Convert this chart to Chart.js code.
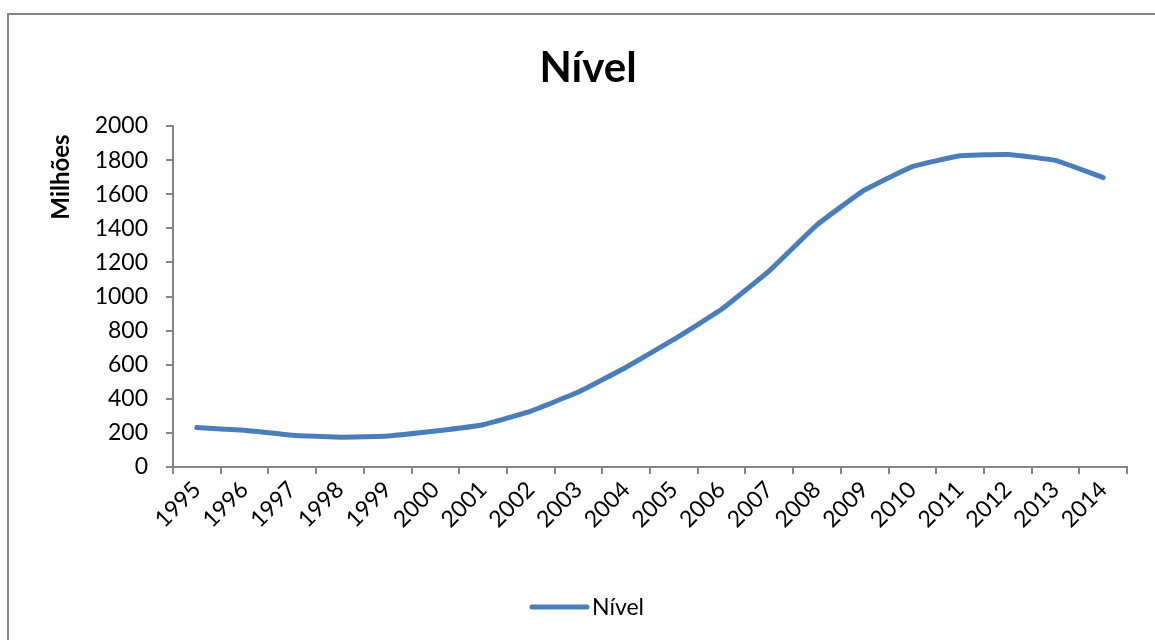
<!DOCTYPE html>
<html>
<head>
<meta charset="utf-8">
<title>Nível</title>
<script src="https://cdn.jsdelivr.net/npm/chart.js@4/dist/chart.umd.min.js"></script>
<style>
  html, body { margin: 0; padding: 0; background: #fff; overflow: hidden; }
  #wrap { width: 1155px; height: 640px; position: relative; }
</style>
</head>
<body>
<div id="wrap"><canvas id="nivelChart" width="1155" height="640"></canvas></div>
<script>
const anos = ['1995', '1996', '1997', '1998', '1999', '2000', '2001', '2002', '2003', '2004',
              '2005', '2006', '2007', '2008', '2009', '2010', '2011', '2012', '2013', '2014'];
const nivel = [231, 215, 186, 175, 182, 211, 248, 328, 440, 585,
               748, 925, 1150, 1420, 1625, 1762, 1825, 1833, 1798, 1697];
const yTicks = [0, 200, 400, 600, 800, 1000, 1200, 1400, 1600, 1800, 2000];

const AXIS_GREY = '#868686';
const LINE_BLUE = '#4a7ebb';
const FONT = 'Lato, "Open Sans", sans-serif';

// outer frame of the chart object, open on the right and bottom;
// the object is wider than the canvas, so title and legend centre at 588
const FRAME_CENTER = 588;

const framePlugin = {
    id: 'frame',
    beforeDraw(chart) {
        const ctx = chart.ctx;
        ctx.save();
        ctx.strokeStyle = AXIS_GREY;
        ctx.lineWidth = 2;
        ctx.strokeRect(8, 14, chart.width + 20, chart.height + 20);
        ctx.restore();
    }
};

// title, axis title and the single-entry legend
const textPlugin = {
    id: 'texts',
    afterDraw(chart) {
        const ctx = chart.ctx;
        const ds = chart.data.datasets[0];
        ctx.save();
        ctx.fillStyle = '#000';

        ctx.font = 'bold 42px ' + FONT;
        ctx.textAlign = 'center';
        ctx.textBaseline = 'alphabetic';
        ctx.fillText(ds.label, FRAME_CENTER, 82);

        ctx.save();
        ctx.translate(61, 177);
        ctx.rotate(-Math.PI / 2);
        ctx.font = 'bold 24px ' + FONT;
        ctx.textBaseline = 'middle';
        ctx.fillText('Milhões', 0, 0);
        ctx.restore();

        // legend: line sample followed by the series name
        ctx.font = '23px ' + FONT;
        const textW = ctx.measureText(ds.label).width;
        const sampleW = 55, gap = 5;
        const x0 = FRAME_CENTER - (sampleW + gap + textW) / 2;
        const y = 607;
        ctx.strokeStyle = ds.borderColor;
        ctx.lineWidth = ds.borderWidth;
        ctx.lineCap = 'round';
        ctx.beginPath();
        ctx.moveTo(x0, y);
        ctx.lineTo(x0 + sampleW, y);
        ctx.stroke();
        ctx.textAlign = 'left';
        ctx.textBaseline = 'middle';
        ctx.fillText(ds.label, x0 + sampleW + gap, y + 1);
        ctx.restore();
    }
};

new Chart(document.getElementById('nivelChart'), {
    type: 'line',
    data: {
        labels: anos,
        datasets: [{
            label: 'Nível',
            data: nivel,
            borderColor: LINE_BLUE,
            backgroundColor: LINE_BLUE,
            borderWidth: 5,
            borderCapStyle: 'round',
            borderJoinStyle: 'round',
            pointRadius: 0,
            pointHoverRadius: 0,
            tension: 0.1
        }]
    },
    options: {
        responsive: false,
        animation: false,
        layout: { padding: { left: 83, right: 28, top: 126, bottom: 93 } },
        plugins: {
            title: { display: false },
            legend: { display: false },
            tooltip: { enabled: false }
        },
        scales: {
            x: {
                offset: true,
                afterFit(axis) { axis.height = 80; },
                grid: {
                    offset: true,
                    drawOnChartArea: false,
                    drawTicks: true,
                    tickLength: 7,
                    color: AXIS_GREY,
                    lineWidth: 2
                },
                border: { color: AXIS_GREY, width: 2 },
                ticks: {
                    color: '#000',
                    font: { family: FONT, size: 23 },
                    minRotation: 45,
                    maxRotation: 45,
                    autoSkip: false,
                    padding: 2
                }
            },
            y: {
                min: 0,
                max: 2000,
                afterBuildTicks(axis) {
                    axis.ticks = yTicks.map(v => ({ value: v }));
                },
                afterFit(axis) { axis.width = 90; },
                grid: {
                    drawOnChartArea: false,
                    drawTicks: true,
                    tickLength: 7,
                    color: AXIS_GREY,
                    lineWidth: 2
                },
                border: { color: AXIS_GREY, width: 2 },
                ticks: {
                    color: '#000',
                    font: { family: FONT, size: 23 },
                    padding: 18,
                    callback: v => String(v)
                }
            }
        }
    },
    plugins: [framePlugin, textPlugin]
});
</script>
</body>
</html>
